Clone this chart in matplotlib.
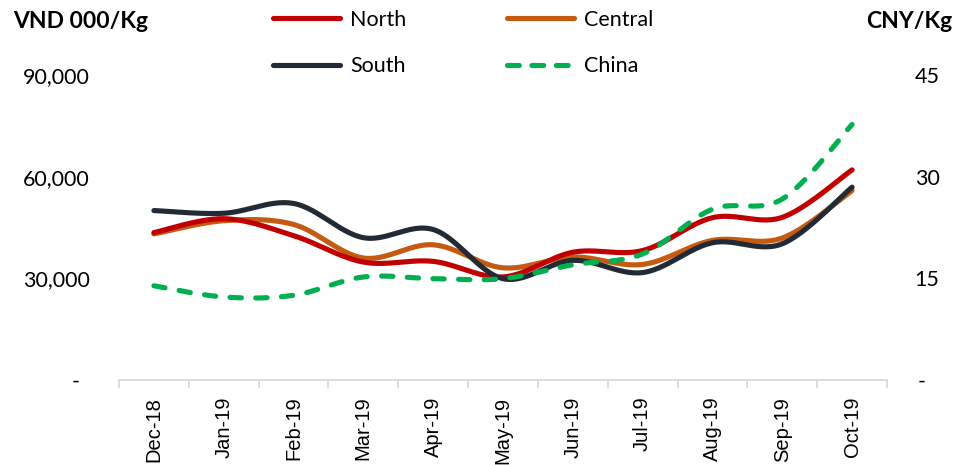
import numpy as np
import matplotlib
matplotlib.use("Agg")
import matplotlib.pyplot as plt
from matplotlib.lines import Line2D
from matplotlib.transforms import ScaledTranslation

months = ["Dec-18", "Jan-19", "Feb-19", "Mar-19", "Apr-19", "May-19",
          "Jun-19", "Jul-19", "Aug-19", "Sep-19", "Oct-19"]
north = [43500, 47600, 42600, 34800, 35000, 30400, 37700, 38200, 47900, 48000, 62000]
central = [43100, 47000, 45900, 36000, 39900, 33100, 36300, 34100, 41200, 41900, 55900]
south = [50000, 49200, 52100, 42000, 44400, 29900, 35300, 31700, 40500, 40200, 56900]
china = [13.9, 12.25, 12.5, 15.2, 14.95, 14.95, 17.0, 18.6, 25.2, 26.7, 37.7]

left_ticks = [0, 30000, 60000, 90000]
left_labels = ["-", "30,000", "60,000", "90,000"]
right_ticks = [0, 15, 30, 45]
right_labels = ["-", "15", "30", "45"]

C_NORTH = "#C00000"
C_CENTRAL = "#C55A11"
C_SOUTH = "#222A35"
C_CHINA = "#00B050"

FONT = "Lato"


def smooth(x, y, n=30):
    """Excel-like smoothed line: cubic Bezier with Catmull-Rom control points."""
    x = np.asarray(x, float)
    y = np.asarray(y, float)
    P = np.column_stack([x, y])
    pts = []
    m = len(P)
    for i in range(m - 1):
        p0 = P[i - 1] if i > 0 else P[i]
        p1 = P[i]
        p2 = P[i + 1]
        p3 = P[i + 2] if i + 2 < m else P[i + 1]
        c1 = p1 + (p2 - p0) / 6.0
        c2 = p2 - (p3 - p1) / 6.0
        t = np.linspace(0, 1, n, endpoint=(i == m - 2))[:, None]
        b = ((1 - t) ** 3) * p1 + 3 * ((1 - t) ** 2) * t * c1 + 3 * (1 - t) * t ** 2 * c2 + t ** 3 * p2
        pts.append(b)
    pts = np.vstack(pts)
    return pts[:, 0], pts[:, 1]


fig = plt.figure(figsize=(9.66, 4.65), dpi=100)
ax = fig.add_axes([119 / 966, 1 - 380 / 465, (887 - 119) / 966, (380 - 75) / 465])
ax2 = ax.twinx()

xs = np.arange(len(months))
LW = 3.7
for data, col in [(central, C_CENTRAL), (north, C_NORTH), (south, C_SOUTH)]:
    sx, sy = smooth(xs, data)
    ax.plot(sx, sy, color=col, lw=LW, solid_capstyle="round", zorder=3)

cx, cy = smooth(xs, china)
ax2.plot(cx, cy, color=C_CHINA, lw=LW, dashes=(2.2, 2.8), dash_capstyle="round", zorder=4)

ax.set_xlim(-0.5, len(months) - 0.5)
ax.set_ylim(0, 90000)
ax2.set_ylim(0, 45)

for a in (ax, ax2):
    for s in ["top", "left", "right"]:
        a.spines[s].set_visible(False)
ax2.spines["bottom"].set_visible(False)
ax.spines["bottom"].set_color("#D9D9D9")
ax.spines["bottom"].set_linewidth(1.3)

ax.set_xticks(xs)
ax.set_xticklabels(months, rotation=90, fontfamily="Liberation Sans", fontsize=14.5)
ax.tick_params(axis="x", which="major", length=0, pad=12)
ax.set_xticks(np.arange(-0.5, len(months), 1.0), minor=True)
ax.tick_params(axis="x", which="minor", length=6, width=1.3, color="#D9D9D9")

ax.set_yticks(left_ticks)
ax.set_yticklabels(left_labels, fontfamily=FONT, fontsize=15.5)
ax.tick_params(axis="y", length=0, pad=21)
ax2.set_yticks(right_ticks)
ax2.set_yticklabels(right_labels, fontfamily=FONT, fontsize=15.5)
ax2.tick_params(axis="y", length=0, pad=20)

lbl0 = ax.get_yticklabels()[0]
lbl0.set_transform(lbl0.get_transform() + ScaledTranslation(-0.10, 0, fig.dpi_scale_trans))
rl0 = ax2.get_yticklabels()[0]
rl0.set_transform(rl0.get_transform() + ScaledTranslation(0.03, 0, fig.dpi_scale_trans))

fig.text(13 / 966, 1 - 21 / 465, "VND 000/Kg", fontfamily=FONT, fontweight="bold",
         fontsize=16.5, ha="left", va="center")
fig.text(952 / 966, 1 - 22 / 465, "CNY/Kg", fontfamily=FONT, fontweight="bold",
         fontsize=16.5, ha="right", va="center")

handles = [
    Line2D([], [], color=C_NORTH, lw=LW, solid_capstyle="round"),
    Line2D([], [], color=C_SOUTH, lw=LW, solid_capstyle="round"),
    Line2D([], [], color=C_CENTRAL, lw=LW, solid_capstyle="round"),
    Line2D([], [], color=C_CHINA, lw=LW, dashes=(2.3, 2.45), dash_capstyle="round"),
]
labels = ["North", "South", "Central", "China"]
fig.legend(handles, labels, ncol=2, loc="upper left", bbox_to_anchor=(273 / 966, 1 - 10 / 465),
           frameon=False, prop={"family": FONT, "size": 15.5}, handlelength=3.1,
           handletextpad=0.5, columnspacing=4.65, labelspacing=1.22, borderpad=0,
           borderaxespad=0)

fig.savefig("out.png", dpi=100)
